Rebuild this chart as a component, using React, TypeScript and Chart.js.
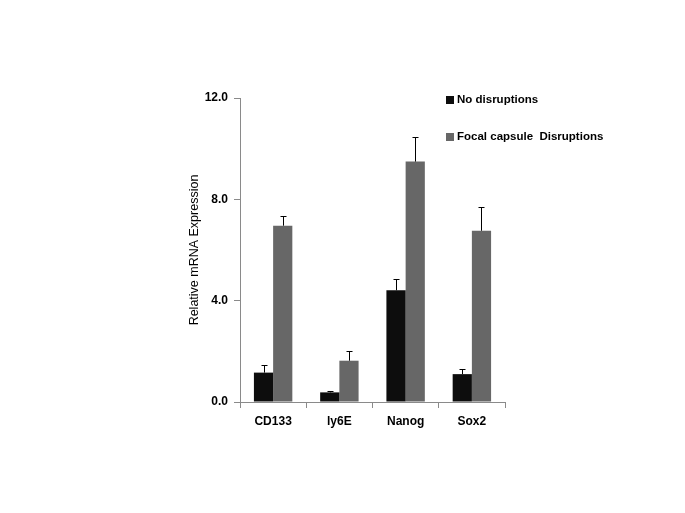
import React, { useEffect, useRef } from "react";
import { Chart, registerables } from "chart.js";

Chart.register(...registerables);

const categories = ["CD133", "ly6E", "Nanog", "Sox2"];
const seriesNames = ["No disruptions", "Focal capsule  Disruptions"];
const noDisruptions = [1.16, 0.38, 4.41, 1.1];
const noDisruptionsErr = [0.3, 0.05, 0.46, 0.2];
const focalDisruptions = [6.96, 1.63, 9.49, 6.76];
const focalDisruptionsErr = [0.38, 0.4, 0.96, 0.95];
const yTicks = [0, 4, 8, 12];
const colors = ["#0d0d0d", "#676767"];

const errorBars = {
  id: "errorBars",
  afterDatasetsDraw(chart: any) {
    const { ctx } = chart;
    const yScale = chart.scales.y;
    const errs = [noDisruptionsErr, focalDisruptionsErr];
    ctx.save();
    ctx.strokeStyle = "#000";
    ctx.lineWidth = 1;
    chart.data.datasets.forEach((ds: any, di: number) => {
      const meta = chart.getDatasetMeta(di);
      meta.data.forEach((bar: any, i: number) => {
        const v = ds.data[i];
        const top = yScale.getPixelForValue(v + errs[di][i]);
        const base = yScale.getPixelForValue(v);
        const x = Math.round(bar.x) + 0.5;
        ctx.beginPath();
        ctx.moveTo(x, base);
        ctx.lineTo(x, Math.round(top) + 0.5);
        ctx.moveTo(x - 3, Math.round(top) + 0.5);
        ctx.lineTo(x + 3, Math.round(top) + 0.5);
        ctx.stroke();
      });
    });
    ctx.restore();
  },
};

const customLegend = {
  id: "customLegend",
  afterDraw(chart: any) {
    const { ctx } = chart;
    ctx.save();
    ctx.font = "bold 11.5px 'Liberation Sans', Arial, sans-serif";
    ctx.textBaseline = "middle";
    ctx.textAlign = "left";
    const rows = [100, 137];
    seriesNames.forEach((name, i) => {
      const y = rows[i];
      ctx.fillStyle = colors[i];
      ctx.fillRect(446, y - 4, 8, 8);
      ctx.fillStyle = "#000";
      ctx.fillText(name, 457, y);
    });
    ctx.restore();
  },
};

export default function App() {
  const ref = useRef<HTMLCanvasElement>(null);
  useEffect(() => {
    document.body.style.margin = "0";
    const chart = new Chart(ref.current!, {
      type: "bar",
      data: {
        labels: categories,
        datasets: [
          {
            label: seriesNames[0],
            data: noDisruptions,
            backgroundColor: colors[0],
            categoryPercentage: 0.58,
            barPercentage: 1.0,
          },
          {
            label: seriesNames[1],
            data: focalDisruptions,
            backgroundColor: colors[1],
            categoryPercentage: 0.58,
            barPercentage: 1.0,
          },
        ],
      },
      options: {
        animation: false,
        responsive: false,
        maintainAspectRatio: false,
        layout: { padding: { left: 184, right: 180, top: 98, bottom: 0 } },
        plugins: { legend: { display: false }, tooltip: { enabled: false } },
        scales: {
          x: {
            afterFit: (s: any) => {
              s.height = 111;
            },
            grid: {
              display: true,
              drawOnChartArea: false,
              drawTicks: true,
              tickLength: 6,
              color: "#8a8a8a",
            },
            border: { color: "#8a8a8a" },
            ticks: {
              color: "#000",
              padding: 6,
              font: { family: "'Liberation Sans', Arial, sans-serif", size: 12, weight: "bold" },
            },
          },
          y: {
            min: 0,
            max: 12,
            afterFit: (s: any) => {
              s.width = 56;
            },
            afterBuildTicks: (s: any) => {
              s.ticks = yTicks.map((v) => ({ value: v }));
            },
            grid: {
              display: true,
              drawOnChartArea: false,
              drawTicks: true,
              tickLength: 6,
              color: "#8a8a8a",
            },
            border: { color: "#8a8a8a" },
            ticks: {
              color: "#000",
              padding: 6,
              callback: (v: any) => Number(v).toFixed(1),
              font: { family: "'Liberation Sans', Arial, sans-serif", size: 12, weight: "bold" },
            },
            title: {
              display: true,
              text: "Relative mRNA Expression",
              color: "#000",
              padding: { top: 3, bottom: 0 },
              font: { family: "'Liberation Sans', Arial, sans-serif", size: 12.5 },
            },
          },
        },
      },
      plugins: [errorBars, customLegend],
    });
    return () => chart.destroy();
  }, []);
  return <canvas ref={ref} width={685} height={513} style={{ display: "block" }} />;
}
